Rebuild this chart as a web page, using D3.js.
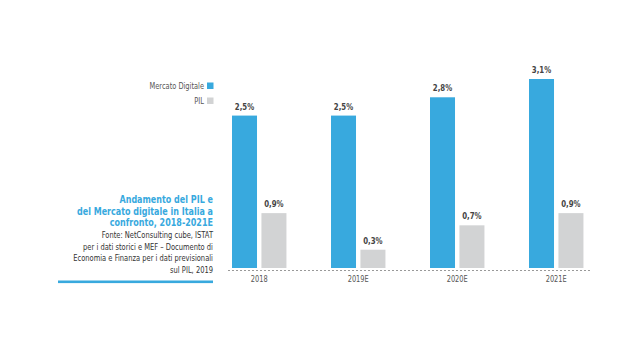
<!DOCTYPE html>
<html>
<head>
<meta charset="utf-8">
<script src="https://cdn.jsdelivr.net/npm/d3@7"></script>
<style>
  body { margin: 0; background: #fff; }
  svg { display: block; }
  text { font-family: "Liberation Sans Narrow", "DejaVu Sans Condensed", "Liberation Sans", sans-serif; }
</style>
</head>
<body>
<div id="chart"></div>
<script>
"use strict";

const years = ["2018", "2019E", "2020E", "2021E"];
const series = ["Mercato Digitale", "PIL"];
const digitale = [2.5, 2.5, 2.8, 3.1];
const pil = [0.9, 0.3, 0.7, 0.9];
const valueLabels = [["2,5%", "2,5%", "2,8%", "3,1%"], ["0,9%", "0,3%", "0,7%", "0,9%"]];
const titleLines = ["Andamento del PIL e", "del Mercato digitale in Italia a", "confronto, 2018-2021E"];
const sourceLines = [
  "Fonte: NetConsulting cube, ISTAT",
  "per i dati storici e MEF \u2013 Documento di",
  "Economia e Finanza per i dati previsionali",
  "sul PIL, 2019"
];

const W = 640, H = 360;
const colors = ["#38a9de", "#d2d3d4"];

const svg = d3.select("#chart").append("svg").attr("width", W).attr("height", H);

// the source uses a condensed face, squeeze the fallback horizontally
function squeeze(sel, sx, x) {
  sel.attr("x", x / sx).attr("transform", `scale(${sx},1)`);
}

// x scales
const x0 = d3.scaleBand().domain(years).range([202.3, 613.15]).paddingInner(0.45).paddingOuter(0.3);
const x1 = d3.scaleBand().domain(series).range([0, x0.bandwidth()]).paddingInner(0.15);

const y = d3.scaleLinear().domain([0, 3.1]).range([268, 79]);

const rows = years.map((yr, i) => ({ year: yr, vals: [digitale[i], pil[i]] }));

const groups = svg.selectAll("g.group")
  .data(rows)
  .enter()
  .append("g")
  .attr("class", "group")
  .attr("transform", (d) => `translate(${x0(d.year)},0)`);

groups.selectAll("rect")
  .data((d) => d.vals.map((v, k) => ({ k: k, v: v })))
  .enter()
  .append("rect")
  .attr("x", (d) => x1(series[d.k]))
  .attr("width", x1.bandwidth())
  .attr("y", (d) => y(d.v))
  .attr("height", (d) => y(0) - y(d.v))
  .attr("fill", (d) => colors[d.k]);

groups.each(function (d, i) {
  d3.select(this).selectAll("text.val")
    .data(d.vals.map((v, k) => ({ k: k, v: v })))
    .enter()
    .append("text")
    .attr("class", "val")
    .attr("y", (e) => y(e.v) - 6)
    .attr("text-anchor", "middle")
    .attr("font-size", 9.5)
    .attr("font-weight", "bold")
    .attr("fill", "#444")
    .text((e) => valueLabels[e.k][i])
    .each(function (e) {
      squeeze(d3.select(this), 0.82, x1(series[e.k]) + x1.bandwidth() / 2);
    });
});

// baseline + x axis
const axis = svg.append("g")
  .attr("transform", `translate(0,${y(0) + 2})`)
  .call(d3.axisBottom(x0).tickSize(0).tickPadding(6));
axis.select(".domain")
  .attr("stroke", "#999")
  .attr("stroke-dasharray", "2,2")
  .attr("d", "M228,0.5H590");
axis.selectAll(".tick text")
  .attr("font-family", null)
  .attr("font-size", 9)
  .attr("fill", "#555")
  .attr("transform", "scale(0.82,1)");

// legend
const legend = svg.append("g");
series.forEach((s, k) => {
  const ly = 86 + k * 15;
  legend.append("rect")
    .attr("x", 207).attr("y", ly - 3.5)
    .attr("width", 6.5).attr("height", 6.5)
    .attr("fill", colors[k]);
  legend.append("text")
    .attr("y", ly + 3)
    .attr("text-anchor", "end")
    .attr("font-size", 9)
    .attr("fill", "#555")
    .text(s)
    .call(squeeze, 0.82, 204);
});

// title block
svg.append("g").selectAll("text")
  .data(titleLines)
  .enter()
  .append("text")
  .attr("y", (d, i) => 203 + i * 11.7)
  .attr("text-anchor", "end")
  .attr("font-size", 11)
  .attr("font-weight", "bold")
  .attr("fill", "#38a9de")
  .text((d) => d)
  .call(squeeze, 0.81, 213);

svg.append("g").selectAll("text")
  .data(sourceLines)
  .enter()
  .append("text")
  .attr("y", (d, i) => 238 + i * 11.6)
  .attr("text-anchor", "end")
  .attr("font-size", 8.6)
  .attr("fill", "#333")
  .text((d) => d)
  .call(squeeze, 0.87, 213);

svg.append("rect")
  .attr("x", 58).attr("y", 280.5)
  .attr("width", 155).attr("height", 2.6)
  .attr("fill", "#38a9de");
</script>
</body>
</html>
